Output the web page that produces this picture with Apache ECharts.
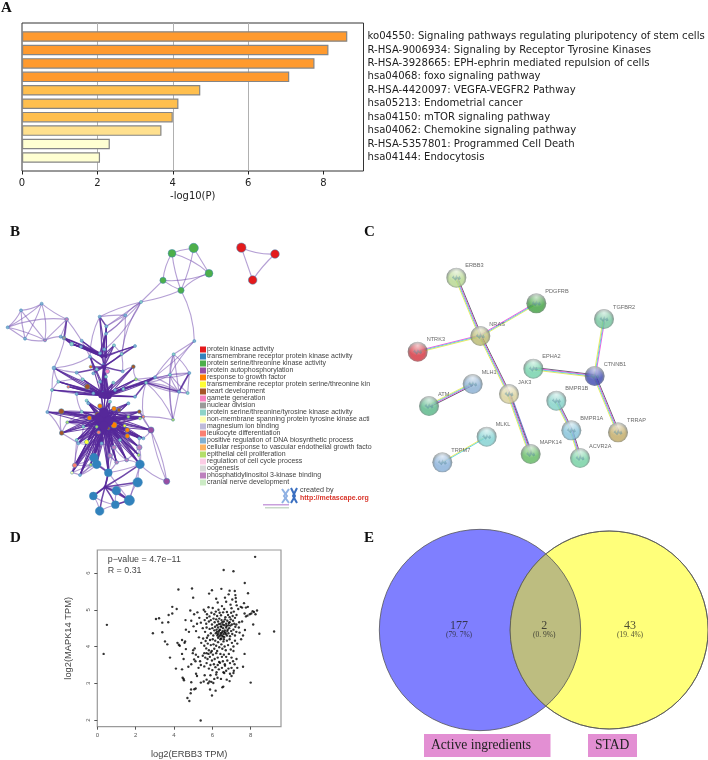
<!DOCTYPE html>
<html><head><meta charset="utf-8">
<style>html,body{margin:0;padding:0;background:#fff}#c{width:708px;height:760px}</style>
<script src="https://cdn.jsdelivr.net/npm/echarts@6/dist/echarts.min.js"></script>
</head><body><div id="c"></div>
<script>
// ---------- Panel A ----------
const termNames = ["ko04550: Signaling pathways regulating pluripotency of stem cells","R-HSA-9006934: Signaling by Receptor Tyrosine Kinases","R-HSA-3928665: EPH-ephrin mediated repulsion of cells","hsa04068: foxo signaling pathway","R-HSA-4420097: VEGFA-VEGFR2 Pathway","hsa05213: Endometrial cancer","hsa04150: mTOR signaling pathway","hsa04062: Chemokine signaling pathway","R-HSA-5357801: Programmed Cell Death","hsa04144: Endocytosis"];
const termLogP = [8.63,8.13,7.76,7.09,4.73,4.15,4.0,3.7,2.33,2.07];
const xTicksA = [0,2,4,6,8];

// ---------- Panel B ----------
const moduleNames = ["protein kinase activity","transmembrane receptor protein kinase activity","protein serine/threonine kinase activity","protein autophosphorylation","response to growth factor","transmembrane receptor protein serine/threonine kin","heart development","gamete generation","nuclear division","protein serine/threonine/tyrosine kinase activity","non-membrane spanning protein tyrosine kinase acti","magnesium ion binding","leukocyte differentiation","positive regulation of DNA biosynthetic process","cellular response to vascular endothelial growth facto","epithelial cell proliferation","regulation of cell cycle process","oogenesis","phosphatidylinositol 3-kinase binding","cranial nerve development"];
// layout x, layout y, module index (-1 = hub bundle), weight
const netNodes = [[724,113,0,5],[825,132,0,4.5],[758,210,0,4.5],[516,130,2,4],[581,114,2,5],[627,190,2,4],[489,211,2,3],[543,241,2,3],
[423,276,9,1],[583,393,13,1],[376,316,13,1],[299,320,13,1],[319,349,13,1],[318,371,13,1],[23,352,13,1],[63,301,13,1],[125,281,13,1],[75,386,13,1],[135,391,18,1],[200,328,18,1.5],[182,380,13,1],[192,384,8,1.5],[215,402,9,1.5],[243,410,13,1],[245,392,13,1],[405,408,13,1],[342,406,9,1],[365,432,9,1],[313,418,13,1],[300,430,13,1],[270,440,13,1],[272,470,4,1],
[521,433,9,1],[568,489,13,1],[510,494,9,1],[465,502,13,1],[438,518,9,1],[537,545,13,1],[563,549,9,1],[519,629,15,1],[162,474,13,1.5],[175,515,9,1],[156,540,9,1],[205,530,12,1],[262,530,6,2.5],[142,606,13,1],[184,604,6,2.5],[202,637,15,1],[185,669,6,2],[293,614,6,2.5],[300,588,4,2],[342,596,4,2],[357,600,6,1.5],[418,605,6,1.5],[342,645,4,3],[268,624,4,2],[382,660,4,2],[382,678,4,2],[296,667,12,1.5],[224,766,12,2],[216,788,10,1],[272,764,15,1],[260,696,5,2],[374,647,5,1],[322,484,7,2],[408,508,15,1],[400,470,6,1.5],[420,625,15,1],[430,620,12,1],
[453,660,3,3],[500,814,3,3],[418,712,18,2.5],[342,712,18,2],[330,737,18,2],[380,750,18,1.5],[350,757,18,1.5],
[282,743,1,4.5],[290,763,1,4.5],[325,788,1,4],[420,763,1,4.5],[413,817,1,5],[349,842,1,4.5],[280,858,1,4],[388,871,1,5.5],[346,884,1,4],[299,903,1,4.5],
[230,488,13,1],[248,508,9,1],[290,478,9,1],[310,465,13,1],[318,500,9,1],[368,484,13,1],[340,518,9,1],[300,515,13,1],[230,552,13,1],[260,572,9,1],[280,550,13,1],[370,537,9,1],[330,575,9,1],[385,580,13,1],[405,560,13,1],[230,690,9,1],[235,700,13,1],[418,685,13,1],[240,795,13,1],[305,700,13,1],[360,690,9,1],[430,685,13,1],[245,605,9,1],[250,650,9,1],[385,620,15,1],[290,650,15,1],[416,735,15,1],[325,655,6,1],[265,580,13,1],[345,540,13,1],[280,490,13,1],[310,548,9,1],
[312,628,-1,8],[315,555,-1,4],[312,470,-1,2],[315,831,-1,1],
[298,622,-1,5],[326,634,-1,5],[312,608,-1,5],[312,648,-1,5],[304,556,-1,3],[326,558,-1,3],[306,440,-1,1],[318,440,-1,1]];
const HUB_LOW=[118,122,123,124,125], HUB_MID=[119,126,127], HUB_UP=[120], HUB_TOP=[128,129], HUB_FOOT=[121];
const lowSpokes=[45,46,47,48,49,50,51,52,53,54,55,56,57,58,62,63,67,68,69,71,72,73,74,75,76,77,78,79,101,102,103,105,106,107,108,109,110,111,113,99,98,95,114,59,61,112,104,60];
const midSpokes=[118,124,120,40,41,42,43,44,36,65,66,87,93,94,96,97,115,117,92,100,35,30];
const upSpokes=[128,129,64,88,89,90,91,116,86,30,27,26,25,28,31];
const topSpokes=[21,22,23,24,13,12,11,25,26,20];
const footSpokes=[78,81,82,83,84,85,79,80];
const thinEdges=[[0,1],[1,2],[0,2],[3,4],[3,5],[3,6],[3,7],[4,5],[4,7],[5,6],[5,7],[6,7],[6,8],[7,8],[7,9],[8,10],[8,11],[8,12],[8,13],[8,29],[8,27],[10,11],[10,12],[10,27],[10,13],[14,15],[14,16],[14,17],[14,18],[14,19],[15,16],[15,17],[15,18],[16,17],[16,18],[17,18],[16,19],[18,19],[19,20],[18,20],[20,21],[21,22],[22,23],[19,30],[19,40],[11,30],[9,34],[9,32],[9,36],[32,33],[32,34],[32,35],[32,37],[33,34],[33,35],[33,36],[33,37],[33,38],[34,35],[34,36],[34,37],[34,38],[35,36],[35,37],[36,37],[36,38],[37,38],[39,37],[39,34],[39,32],[39,36],[39,68],[69,118],[70,69],[70,79],[70,53],[78,79],[78,83],[80,79],[80,121],[80,83],[81,83],[84,83],[85,84],[82,85],[82,84],[81,84],[83,79],[76,77],[77,78],[59,60],[59,61],[60,61],[60,104],[104,77],[104,61],[59,76],[59,101],[101,102],[102,62],[40,41],[40,86],[41,42],[42,45],[45,48],[46,48],[47,48],[48,102],[69,53],[69,107],[107,103],[103,71],[71,112],[112,79],[71,79],[72,74],[73,75],[74,75],[75,78],[74,79],[40,30],[25,27],[26,27],[27,91],[91,66],[66,65],[65,36],[35,65],[53,68],[68,67],[36,68],[40,42],[42,94],[41,87],[86,87],[94,108],[108,46],[108,47],[47,109],[109,102],[102,105],[105,72],[72,78],[59,102],[77,104],[73,78],[74,71],[75,73],[61,76],[61,77]];
const boldEdges=[[36,35],[36,37],[36,100],[33,37],[11,12],[12,13],[13,29],[78,121],[19,21],[21,22],[22,23],[23,29],[22,29],[77,78],[83,81],[83,84],[82,121]];

// ---------- Panel C ----------
const proteinNames = ["ERBB3","PDGFRB","NRAS","NTRK3","TGFBR2","EPHA2","CTNNB1","MLH1","ATM","JAK3","BMPR1B","BMPR1A","TRRAP","MLKL","MAPK14","ACVR2A","TRPM7"];
const proteinX = [289,529,361,173,732,520,704,338,207,447,589,634,774,380,512,660,247];
const proteinY = [173,250,348,395,297,446,468,492,558,522,542,631,637,650,702,714,727];
const proteinHue = ["#b4d68c","#3d9f3d","#b9b96e","#d32f3a","#70c39b","#6fd0a8","#3a46ae","#88aed2","#55b585","#d8cf98","#7fd0c6","#80c0d8","#c0a862","#7ed0d0","#5fb85f","#70cfa0","#85aed8"];
// from, to, evidence stripes: d dark, m magenta, c cyan, y yellow, b blue
const proteinLinks = [[0,2,"dmcy"],[1,2,"ycm"],[3,2,"mcy"],[2,9,"dmcy"],[9,14,"bdmcy"],[7,8,"dmcy"],[5,6,"dmcy"],[4,6,"mcy"],[6,12,"dmcy"],[10,11,"dmcy"],[11,15,"dmcy"],[13,16,"cy"]];

// ---------- Panel D ----------
const xTicksD = [0,2,4,6,8];
const yTicksD = [2,3,4,5,6];
const erbb3Mapk14 = [[8.23,6.44],[6.59,6.08],[7.1,6.05],[7.69,5.73],[4.94,5.58],[4.23,5.55],[6.47,5.57],[5.98,5.53],[5,5.33],[7.86,5.45],[7.17,5.51],[6.9,5.52],[3.91,5.08],[4.14,5.02],[3.06,4.75],[3.22,4.77],[3.39,4.65],[3.7,4.66],[3.72,4.86],[3.91,4.9],[0.5,4.59],[0.33,3.8],[2.9,4.36],[3.39,4.39],[3.53,4.14],[3.65,4.06],[3.79,3.7],[4.1,3.4],[9.22,4.41],[8.45,4.35],[8,3.02],[5.39,1.99],[4.7,2.6],[4.8,2.52],[4.87,2.73],[4.89,2.83],[5.06,2.84],[5.13,2.86],[5.98,2.67],[5.88,2.83],[6.17,2.8],[6.57,2.91],[6.52,2.89],
[5.83,5.44],[6.2,5.3],[6.28,5.2],[6.5,5.1],[6.02,5.05],[5.8,5.07],[6.66,5.33],[6.72,5.22],[6.95,5.14],[7.04,5.28],[7.2,5.4],[7.22,5.32],[7.23,5.22],[7.27,5.12],[7,5.04],[6.85,5.42],[6.32,5],[6.62,5.02],[5.55,5],[4.85,4.98],[5.05,4.88],[5.22,4.93],[5.32,4.78],[5.4,4.65],[4.6,4.72],[4.62,4.46],[4.9,4.7],[5.02,4.55],[5.2,4.62],[4.78,4.4],[5.15,4.42],[4.25,4.05],[4.3,4.02],[4.42,3.8],[4.62,3.93],[4.55,4.1],[4.42,4.18],[4.58,4.14],[4.18,4.1],
[5.62,4.95],[5.72,4.88],[5.85,4.82],[5.95,4.92],[6.1,4.88],[6.18,4.95],[6.25,4.83],[6.38,4.92],[6.45,4.85],[6.56,4.93],[6.68,4.8],[6.76,4.94],[6.82,4.86],[6.9,4.8],[6.98,4.92],[7.06,4.83],[7.12,4.95],[7.18,4.78],[7.26,4.86],[7.35,5.02],[7.48,5.08],[7.55,5.06],[7.65,5.18],[7.75,5.06],[7.85,5.08],[7.68,4.9],[7.75,4.82],[7.83,4.84],[7.95,4.88],[8.03,4.9],[8.1,4.96],[8.17,4.94],[8.25,4.88],[8.33,4.98],[8.13,4.6],[7.4,4.66],[7.55,4.68],[7.7,4.45],[7.6,4.3],[7.38,4.52],[7.42,4.38],[7.5,4.2],[7.25,4.6],
[5.6,4.72],[5.68,4.62],[5.72,4.78],[5.82,4.68],[5.92,4.72],[5.98,4.6],[6.06,4.76],[6.12,4.66],[6.2,4.74],[6.24,4.58],[6.3,4.68],[6.36,4.76],[6.42,4.62],[6.48,4.72],[6.54,4.6],[6.6,4.68],[6.66,4.74],[6.72,4.62],[6.78,4.7],[6.84,4.58],[6.9,4.66],[6.96,4.74],[7.02,4.6],[7.08,4.7],[7.14,4.62],[7.2,4.54],[6.34,4.61],[6.44,4.55],[6.52,4.66],[6.62,4.58],[6.74,4.56],[6.86,4.64],[6.94,4.57],
[5.5,4.5],[5.62,4.4],[5.7,4.52],[5.78,4.3],[5.86,4.48],[5.92,4.36],[6,4.5],[6.05,4.3],[6.1,4.44],[6.14,4.54],[6.18,4.36],[6.22,4.46],[6.26,4.3],[6.3,4.52],[6.33,4.4],[6.37,4.28],[6.4,4.46],[6.44,4.36],[6.47,4.54],[6.5,4.3],[6.53,4.42],[6.56,4.5],[6.59,4.34],[6.62,4.26],[6.65,4.44],[6.68,4.38],[6.72,4.52],[6.76,4.3],[6.8,4.46],[6.84,4.36],[6.88,4.5],[6.92,4.28],[6.98,4.42],[7.04,4.34],[7.1,4.46],[7.18,4.3],[7.25,4.4],[6.24,4.4],[6.29,4.34],[6.36,4.44],[6.42,4.32],[6.5,4.38],[6.55,4.27],[6.62,4.4],[6.7,4.34],[6.78,4.42],[6.3,4.24],[6.46,4.22],[6.6,4.2],
[5.3,4.25],[5.42,4.1],[5.52,4.22],[5.58,4.02],[5.65,4.15],[5.68,3.95],[5.72,4.24],[5.76,4.08],[5.82,3.9],[5.88,4.18],[5.92,4.04],[5.97,3.88],[6.02,4.2],[6.06,4.06],[6.1,3.94],[6.15,4.16],[6.2,4.02],[6.25,3.88],[6.3,4.12],[6.36,3.98],[6.42,4.2],[6.47,4.06],[6.52,3.94],[6.58,4.14],[6.64,4],[6.7,3.9],[6.76,4.16],[6.82,4.04],[6.9,4.2],[6.96,3.92],[7.02,4.1],[7.1,4.0],[7.18,4.16],[7.3,4.08],[7.1,3.88],[7.68,3.8],
[5.0,3.9],[5.08,3.95],[5.14,3.78],[5.26,3.72],[5.05,3.65],[4.98,3.82],[5.36,3.6],[5.5,3.75],[5.58,3.82],[5.63,3.7],[5.7,3.82],[5.75,3.66],[5.8,3.8],[5.87,3.72],[5.92,3.84],[5.98,3.62],[6.03,3.78],[6.12,3.66],[6.2,3.82],[6.28,3.7],[6.35,3.58],[6.42,3.8],[6.5,3.72],[6.55,3.6],[6.6,3.78],[6.65,3.52],[6.72,3.72],[6.78,3.62],[6.86,3.8],[6.92,3.55],[7,3.7],[7.08,3.6],[7.16,3.52],[7.26,3.66],
[4.5,3.66],[4.42,3.38],[4.75,3.45],[4.9,3.52],[5.12,3.6],[5.28,3.42],[5.4,3.5],[5.58,3.46],[5.7,3.55],[5.82,3.4],[5.9,3.5],[6,3.36],[6.08,3.52],[6.16,3.44],[6.22,3.3],[6.28,3.5],[6.34,3.38],[6.4,3.56],[6.5,3.42],[6.58,3.3],[6.66,3.48],[6.72,3.34],[6.84,3.4],[6.92,3.26],[7,3.42],[7.12,3.34],[7.3,3.42],[7.6,3.45],
[4.45,3.15],[4.5,3.12],[4.52,3.08],[4.9,3.03],[5.15,3.26],[5.2,3.2],[5.4,3.02],[5.55,3.05],[5.6,3.22],[5.7,3.1],[5.78,3],[5.9,3.22],[5.95,3.04],[6.1,3.12],[6.2,3.24],[6.27,3.15],[6.45,3.12],[6.62,3.28],[6.75,3.1],[6.9,3.06],[7.0,3.2],[7.1,3.28],[5.85,3.05],[6.05,3.01]];

// ---------- Panel E ----------
const vennLabels = ["177","2","43"];
const vennPercents = ["(79. 7%)","(0. 9%)","(19. 4%)"];
const vennSets = ["Active ingredients","STAD"];

// ---------- Option ----------
const barFill = v => v>=6 ? '#ff9a2e' : v>=4 ? '#ffbf4e' : v>=3 ? '#ffe08e' : '#ffffd2';
const moduleColors = ['#e41a1c','#3182bd','#4daf4a','#984ea3','#ff7f00','#ffff33','#a65628','#f781bf','#999999','#8dd3c7','#ffffb3','#bebada','#fb8072','#80b1d3','#fdb462','#b3de69','#fccde5','#d9d9d9','#bc80bd','#ccebc5'];

const links = [];
const pushLinks = (hubs, list, width, opacity, curve) => hubs.forEach((hub,h) => list.forEach((n,i) => {
  if(hub!==n) links.push({source:hub, target:n, lineStyle:{color:'#56289a', width, opacity, curveness:((i+h)%5-2)*curve}});
}));
thinEdges.forEach((e,i)=>links.push({source:e[0],target:e[1],lineStyle:{color:'#7650b0',width:1.1,opacity:0.55,curveness:(i%5-2)*0.06}}));
boldEdges.forEach(e=>links.push({source:e[0],target:e[1],lineStyle:{color:'#56289a',width:1.6,opacity:0.85}}));
pushLinks(HUB_LOW,lowSpokes,1.05,0.85,0.012);
pushLinks(HUB_MID,midSpokes,1.15,0.85,0.012);
pushLinks(HUB_MID,[120],2.4,0.9,0);
pushLinks(HUB_UP,upSpokes,1.5,0.85,0.02);
pushLinks(HUB_TOP,topSpokes,1.2,0.85,0.02);
pushLinks(HUB_FOOT,footSpokes,1.5,0.85,0.02);

const sphere = c => ({type:'radial',x:0.5,y:0.55,r:0.6,colorStops:[{offset:0,color:c},{offset:0.6,color:c},{offset:0.88,color:'rgba(80,90,90,0.85)'},{offset:1,color:'rgba(130,130,130,0.5)'}]});
const gloss = {type:'radial',x:0.5,y:0.2,r:0.5,colorStops:[{offset:0,color:'rgba(255,255,255,0.85)'},{offset:1,color:'rgba(255,255,255,0)'}]};
const stripeColor = {d:'#4a4a5a',m:'#e845d8',c:'#3fcbe8',y:'#e6e64a',b:'#5a5ad0'};
const squiggle='path://M0 6 L3 2 L5 7 L8 1 L10 6 L13 3 L15 8 L12 10 L9 7 L6 11 L3 8 Z';

const option = {
  animation:false,
  backgroundColor:'#fff',
  textStyle:{fontFamily:'"Liberation Sans",sans-serif'},
  legend:{
    data:moduleNames.map(n=>({name:n,icon:'rect'})),
    orient:'vertical',left:200,top:346,itemWidth:6,itemHeight:6,itemGap:0,selectedMode:false,padding:0,
    textStyle:{fontSize:7,color:'#444',fontFamily:'"Liberation Sans"',padding:[0,0,0,-4],height:7,lineHeight:7}
  },
  grid:[
    {left:22,top:23,width:341.5,height:148,show:true,borderColor:'#333',borderWidth:1,backgroundColor:'#fff',z:0,outerBoundsMode:'none'},
    {left:22,top:29.8,width:341.5,height:134.4,show:false,outerBoundsMode:'none'},
    {left:0,top:210,width:350,height:320,show:false,outerBoundsMode:'none'},
    {left:360,top:220,width:340,height:280,show:false,outerBoundsMode:'none'},
    {left:97.3,top:550,width:183.7,height:176.7,show:true,borderColor:'#9a9a9a',borderWidth:1.2,outerBoundsMode:'none'},
    {left:330,top:525,width:378,height:235,show:false,outerBoundsMode:'none'}
  ],
  xAxis:[
    {gridIndex:0,type:'value',min:0,max:9.06,name:'-log10(P)',nameLocation:'middle',nameGap:20,
     nameTextStyle:{fontFamily:'"DejaVu Sans"',fontSize:10,color:'#222'},
     axisLine:{show:false},axisTick:{show:true,length:3.5,lineStyle:{color:'#222'},customValues:xTicksA},
     axisLabel:{fontFamily:'"DejaVu Sans"',fontSize:10,color:'#222',margin:7,customValues:xTicksA},
     splitLine:{show:true,lineStyle:{color:'#b0b0b0',width:1},showMinLine:false,showMaxLine:false}},
    {gridIndex:1,type:'value',min:0,max:9.06,show:false},
    {gridIndex:2,type:'value',min:0,max:1050,show:false},
    {gridIndex:3,type:'value',min:0,max:1020,show:false},
    {gridIndex:4,type:'value',min:0,max:9.58,name:'log2(ERBB3 TPM)',nameLocation:'middle',nameGap:23,
     nameTextStyle:{fontSize:9.3,color:'#444'},
     axisLine:{show:false},axisTick:{length:3,lineStyle:{color:'#555'},customValues:xTicksD},
     axisLabel:{fontSize:6,color:'#555',margin:6,customValues:xTicksD},splitLine:{show:false}},
    {gridIndex:5,type:'value',min:0,max:1134,show:false}
  ],
  yAxis:[
    {gridIndex:0,type:'value',min:0,max:1,show:false},
    {gridIndex:1,type:'category',data:termNames,inverse:true,position:'right',
     axisLine:{show:false},axisTick:{show:false},
     axisLabel:{fontFamily:'"DejaVu Sans"',fontSize:10.1,color:'#222',margin:4,interval:0}},
    {gridIndex:2,type:'value',min:0,max:960,inverse:true,show:false},
    {gridIndex:3,type:'value',min:0,max:840,inverse:true,show:false},
    {gridIndex:4,type:'value',min:1.82,max:6.626,name:'log2(MAPK14 TPM)',nameLocation:'middle',nameGap:24,
     nameTextStyle:{fontSize:9.3,color:'#444'},
     axisLine:{show:false},axisTick:{length:3,lineStyle:{color:'#555'},customValues:yTicksD},
     axisLabel:{fontSize:6,color:'#555',margin:6,rotate:90,customValues:yTicksD},splitLine:{show:false}},
    {gridIndex:5,type:'value',min:0,max:705,inverse:true,show:false}
  ],
  series:[
    {type:'bar',xAxisIndex:1,yAxisIndex:1,barWidth:10.5,z:3,
     data:termLogP.map(v=>({value:v,itemStyle:{color:barFill(v),borderColor:'#858585',borderWidth:1.2}}))},
    {type:'graph',coordinateSystem:'cartesian2d',xAxisIndex:2,yAxisIndex:2,layout:'none',roam:false,z:3,
     categories:moduleNames.map((n,i)=>({name:n,itemStyle:{color:moduleColors[i]}})),
     data:netNodes.map(n=>{
       const d={value:[n[0],n[1]],symbolSize:1.6*n[3]+1.4,itemStyle:{borderColor:'#3f86b4',borderWidth:0.5}};
       if(n[2]>=0) d.category=n[2]; else d.itemStyle={color:'#56289a',borderWidth:0};
       return d;}),
     links:links,label:{show:false},emphasis:{disabled:true}},
    {type:'custom',xAxisIndex:3,yAxisIndex:3,z:2,silent:true,
     data:proteinLinks.map(l=>[proteinX[l[0]],proteinY[l[0]],proteinX[l[1]],proteinY[l[1]],l[2]]),
     encode:{x:[0,2],y:[1,3]},
     renderItem:(params,api)=>{
       const a=api.coord([api.value(0),api.value(1)]),b=api.coord([api.value(2),api.value(3)]);
       const kinds=String(proteinLinks[params.dataIndex][2]).split('');
       const dx=b[0]-a[0],dy=b[1]-a[1],L=Math.hypot(dx,dy),nx=-dy/L,ny=dx/L,step=0.85;
       return {type:'group',children:kinds.map((k,i)=>{
         const o=(i-(kinds.length-1)/2)*step;
         return {type:'line',shape:{x1:a[0]+nx*o,y1:a[1]+ny*o,x2:b[0]+nx*o,y2:b[1]+ny*o},style:{stroke:stripeColor[k],lineWidth:0.85}};
       })};
     }},
    {type:'scatter',xAxisIndex:3,yAxisIndex:3,symbolSize:20,z:3,
     data:proteinNames.map((n,i)=>({name:n,value:[proteinX[i],proteinY[i]],itemStyle:{color:sphere(proteinHue[i])}})),
     label:{show:true,formatter:'{b}',position:[19,-5],fontSize:5.6,color:'#444',fontFamily:'"Liberation Sans"'},emphasis:{disabled:true}},
    {type:'scatter',xAxisIndex:3,yAxisIndex:3,symbol:squiggle,symbolSize:[9,6],z:4,silent:true,
     data:proteinNames.map((n,i)=>({value:[proteinX[i],proteinY[i]],itemStyle:{color:'#2d6f86',opacity:0.45}})),emphasis:{disabled:true}},
    {type:'scatter',xAxisIndex:3,yAxisIndex:3,symbolSize:20,z:4,silent:true,itemStyle:{color:gloss},
     data:proteinNames.map((n,i)=>[proteinX[i],proteinY[i]]),emphasis:{disabled:true}},
    {type:'scatter',xAxisIndex:4,yAxisIndex:4,symbol:'circle',symbolSize:2.4,z:3,itemStyle:{color:'#000'},data:erbb3Mapk14,emphasis:{disabled:true}},
    {type:'custom',xAxisIndex:5,yAxisIndex:5,z:2,silent:true,
     data:[[450,315,302,0],[837.5,315,297,1]],encode:{x:0,y:1},
     renderItem:(params,api)=>{
       const c=api.coord([api.value(0),api.value(1)]),r=api.size([api.value(2),0])[0];
       const i=params.dataIndex;
       const kids=[{type:'circle',shape:{cx:c[0],cy:c[1],r},style:{fill:i?'#ffff7a':'#7f7fff',stroke:'#555',lineWidth:0.8}}];
       if(i===1){
         const o=api.coord([450,315]),ro=api.size([302,0])[0];
         kids.push({type:'circle',shape:{cx:o[0],cy:o[1],r:ro},style:{fill:'#bdbd80',stroke:'#555',lineWidth:0.8},
           clipPath:{type:'circle',shape:{cx:c[0],cy:c[1],r}}});
         kids.push({type:'circle',shape:{cx:c[0],cy:c[1],r},style:{fill:'none',stroke:'#555',lineWidth:0.8}});
       }
       return {type:'group',children:kids};
     }},
    {type:'scatter',xAxisIndex:5,yAxisIndex:5,symbolSize:0,z:5,
     data:[[387,315],[643,315],[900,315]].map((p,i)=>({value:p,label:{formatter:`{a|${vennLabels[i]}}\n{b|${vennPercents[i]}}`}})),
     label:{show:true,position:'inside',color:'#222',rich:{a:{fontFamily:'"Liberation Serif"',fontSize:12,lineHeight:11,color:'#222'},b:{fontFamily:'"Liberation Serif"',fontSize:7.5,lineHeight:9,color:'#222'}}},
     emphasis:{disabled:true}}
  ],
  graphic:[
    ...[['A',1,1],['B',10,225],['C',364,225],['D',10,531],['E',364,531]].map(p=>({type:'text',left:p[1],top:p[2],silent:true,
       style:{text:p[0],font:'bold 15px "Liberation Serif"',fill:'#111'}})),
    {type:'text',left:107.7,top:555,silent:true,style:{text:'p\u2212value = 4.7e\u221211',font:'8.9px "Liberation Sans"',fill:'#444'}},
    {type:'text',left:107.7,top:566,silent:true,style:{text:'R = 0.31',font:'8.9px "Liberation Sans"',fill:'#444'}},
    {type:'rect',left:424,top:734,shape:{width:126.5,height:23},silent:true,style:{fill:'#e38fd3'}},
    {type:'rect',left:588,top:734,shape:{width:49,height:23},silent:true,style:{fill:'#e38fd3'}},
    {type:'text',left:431,top:738,silent:true,style:{text:vennSets[0],font:'13.6px "Liberation Serif"',fill:'#222'}},
    {type:'text',left:595,top:738,silent:true,style:{text:vennSets[1],font:'13.6px "Liberation Serif"',fill:'#222'}},
    {type:'polyline',silent:true,shape:{points:[[282,489],[287,496],[282,503]]},style:{stroke:'#8fb1e3',lineWidth:2,fill:'none'}},
    {type:'polyline',silent:true,shape:{points:[[289,489],[284,496],[289,503]]},style:{stroke:'#8fb1e3',lineWidth:2,fill:'none'}},
    {type:'polyline',silent:true,shape:{points:[[291,488],[295,496],[291,503]]},style:{stroke:'#3a6fc0',lineWidth:2,fill:'none'}},
    {type:'polyline',silent:true,shape:{points:[[297,488],[293,496],[297,503]]},style:{stroke:'#3a6fc0',lineWidth:2,fill:'none'}},
    {type:'text',left:300,top:487,silent:true,style:{text:'created by',font:'7.2px "Liberation Sans"',fill:'#444'}},
    {type:'text',left:300,top:495,silent:true,style:{text:'http://metascape.org',font:'bold 7px "Liberation Sans"',fill:'#d9362b'}},
    {type:'rect',left:263,top:504,shape:{width:26,height:1.5},silent:true,style:{fill:'#c9a0dc'}},
    {type:'rect',left:265,top:507,shape:{width:24,height:1.5},silent:true,style:{fill:'#c8d8c8'}}
  ]
};
echarts.init(document.getElementById('c'),null,{renderer:'canvas'}).setOption(option);
</script></body></html>
